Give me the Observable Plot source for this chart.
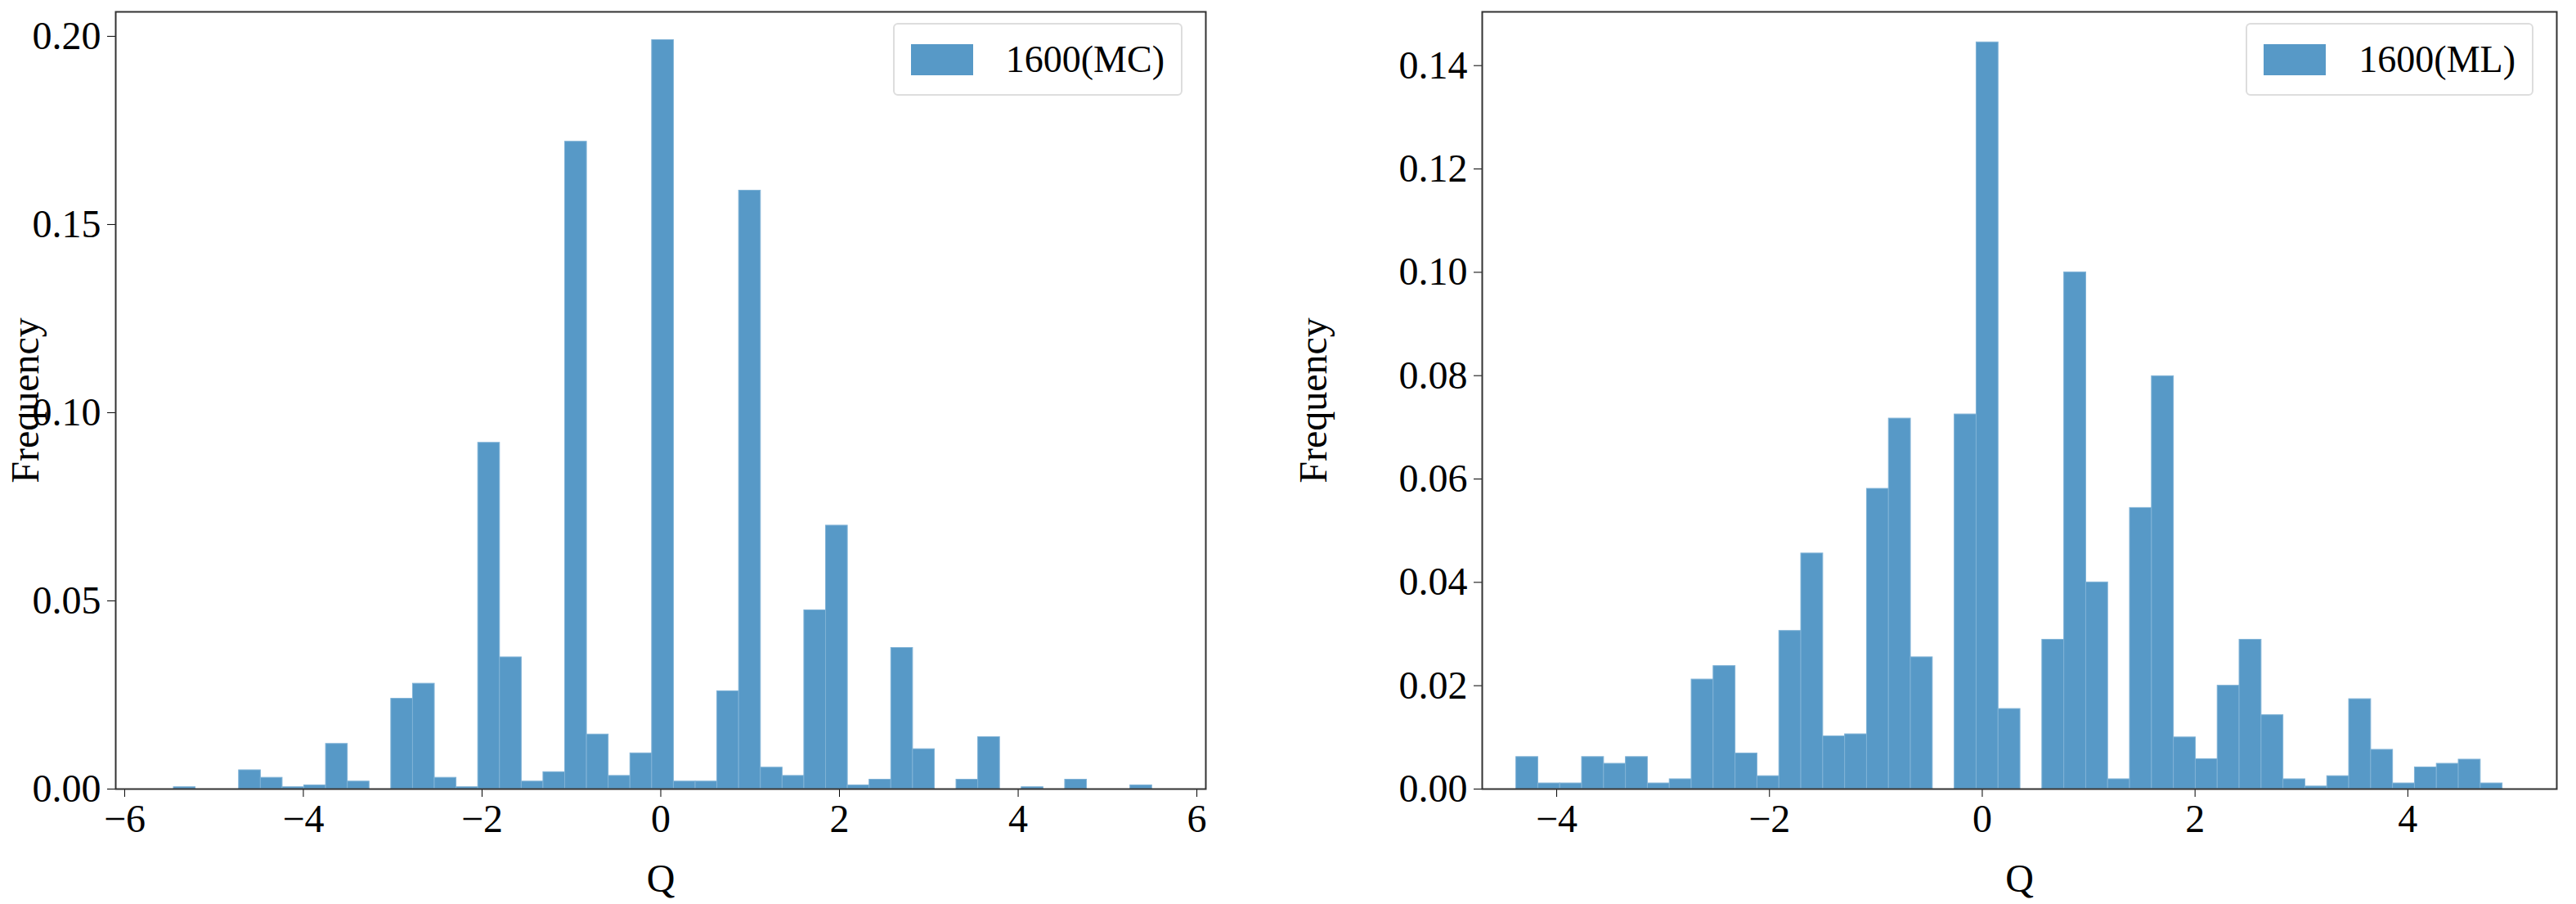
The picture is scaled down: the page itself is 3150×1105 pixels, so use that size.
<!DOCTYPE html>
<html><head><meta charset="utf-8">
<script src="https://cdn.jsdelivr.net/npm/d3@7"></script>
<script src="https://cdn.jsdelivr.net/npm/@observablehq/plot@0.6"></script>
<style>
body{margin:0;background:#fff;font-family:"Liberation Serif",serif}
#wrap{display:flex;width:3150px;height:1105px}
.panel{position:relative}
.legend{position:absolute;top:28px;border:2px solid #ddd;border-radius:6px;background:#fff;padding:16px 20px;display:flex;align-items:center;font-size:46px;font-family:"Liberation Serif",serif}
.legend span.sw{display:inline-block;width:76px;height:38px;background:#5799c7;margin-right:40px}
</style></head><body>
<div id="wrap"></div>
<script>
const mcStart = -5.45, mcWidth = 0.2433;
const mcFreq = [0.0005,0,0,0.005,0.003,0.0005,0.001,0.012,0.002,0,0.024,0.028,0.003,0.0005,0.092,0.035,0.002,0.0045,0.172,0.0145,0.0035,0.0095,0.199,0.002,0.002,0.026,0.159,0.0057,0.0035,0.0475,0.07,0.001,0.0025,0.0375,0.0106,0,0.0025,0.0138,0,0.0005,0,0.0025,0,0,0.001];
const mlStart = -4.38, mlWidth = 0.206;
const mlFreq = [0.0062,0.0011,0.0011,0.0062,0.0049,0.0062,0.0011,0.0019,0.0212,0.0238,0.0069,0.0025,0.0306,0.0456,0.0102,0.0106,0.0581,0.0717,0.0255,0,0.0725,0.1445,0.0155,0,0.0289,0.1,0.04,0.0019,0.0544,0.0799,0.01,0.0058,0.02,0.0289,0.0143,0.0019,0.0005,0.0025,0.0174,0.0076,0.0011,0.0042,0.0049,0.0057,0.0011];
const mcTicksX = [-6,-4,-2,0,2,4,6];
const mcTicksY = [0,0.05,0.10,0.15,0.20];
const mlTicksX = [-4,-2,0,2,4];
const mlTicksY = [0,0.02,0.04,0.06,0.08,0.10,0.12,0.14];

function panel(freq,start,w,xdom,ydom,tx,ty,ml,mr,width,label){
  const data = freq.map((f,i)=>({x1:start+i*w,x2:start+(i+1)*w,y:f}));
  const chart = Plot.plot({
    width, height:1105, marginLeft:ml, marginRight:mr, marginTop:14, marginBottom:141,
    style:{fontFamily:"Liberation Serif, serif",fontSize:"48px",color:"#000",background:"#fff"},
    x:{domain:xdom,ticks:tx,tickFormat:d=>d<0?"\u2212"+(-d):String(d),label:"Q",labelAnchor:"center",labelArrow:"none",labelOffset:125,tickSize:10,tickPadding:8},
    y:{domain:ydom,ticks:ty,tickFormat:d3.format(".2f"),label:"Frequency",labelAnchor:"center",labelArrow:"none",labelOffset:ml-12,tickSize:10,tickPadding:8},
    marks:[
      Plot.rectY(data,{x1:"x1",x2:"x2",y:"y",fill:"#5799c7",stroke:"#7fb2d6",strokeWidth:1}),
      Plot.frame({stroke:"#333",strokeWidth:2})
    ]
  });
  const div=document.createElement("div");div.className="panel";div.appendChild(chart);
  const lg=document.createElement("div");lg.className="legend";lg.style.right=(mr+28)+"px";
  lg.innerHTML='<span class="sw"></span>'+label;div.appendChild(lg);
  document.getElementById("wrap").appendChild(div);
}
panel(mcFreq,mcStart,mcWidth,[-6.1,6.1],[0,0.2065],mcTicksX,mcTicksY,141,101,1575,"1600(MC)");
panel(mlFreq,mlStart,mlWidth,[-4.7,5.4],[0,0.1504],mlTicksX,mlTicksY,237,24,1575,"1600(ML)");
</script></body></html>
